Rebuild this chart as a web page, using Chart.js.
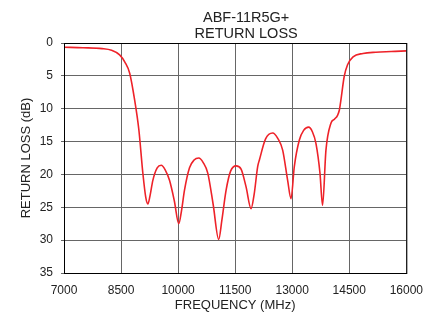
<!DOCTYPE html>
<html>
<head>
<meta charset="utf-8">
<script src="https://cdn.jsdelivr.net/npm/chart.js@4"></script>
<style>
  html, body { margin: 0; padding: 0; background: #fff; }
  #wrap { width: 433px; height: 313px; }
</style>
</head>
<body>
<div id="wrap"><canvas id="rlChart" width="433" height="313"></canvas></div>
<script>
// frequency in MHz, return loss in dB
const freqMHz = [
  7000, 7500, 8000, 8250, 8462, 8600, 8727, 8858, 8968, 9073, 9150, 9205, 9260, 9336,
  9450, 9556, 9660, 9774, 9900, 10018, 10090, 10168, 10300, 10420, 10543, 10660, 10780,
  10920, 11068, 11150, 11262, 11380, 11525, 11656, 11787, 11918, 12000, 12092, 12137,
  12300, 12486, 12620, 12749, 12880, 12969, 13055, 13186, 13300, 13431, 13530, 13625,
  13730, 13798, 13887, 14018, 14110, 14192, 14240, 14280, 14367, 14455, 14600, 14860,
  15199, 15600, 16000
];
const returnLossDb = [
  0.65, 0.72, 0.85, 1.1, 1.8, 2.9, 4.6, 8.7, 13.2, 19.8, 23.5, 24.5, 23.3, 20.9,
  19.0, 18.6, 19.3, 20.9, 24.0, 27.5, 25.5, 22.4, 19.0, 17.8, 17.5, 18.2, 19.8,
  24.5, 29.9, 27.0, 22.4, 19.5, 18.7, 19.2, 21.9, 25.2, 23.0, 18.8, 17.8,
  14.6, 13.7, 14.5, 16.3, 20.9, 23.7, 18.8, 14.8, 13.3, 12.8, 13.5, 15.3,
  19.8, 24.7, 16.3, 12.2, 11.6, 11.0, 10.2, 8.7, 5.1, 3.3, 2.1, 1.6,
  1.4, 1.3, 1.2
];
const titleLines = ["ABF-11R5G+", "RETURN LOSS"];
const xTicks = [7000, 8500, 10000, 11500, 13000, 14500, 16000];

const font = "'Liberation Sans', Arial, Helvetica, sans-serif";
const textColor = "#222";

// title above the plot and a black frame round it
const frame = {
  id: "frame",
  afterDraw(chart) {
    const { ctx, chartArea: a } = chart;
    ctx.save();
    ctx.strokeStyle = "#000";
    ctx.lineWidth = 1;
    ctx.strokeRect(a.left + 0.5, a.top + 0.5, a.right - a.left, a.bottom - a.top);
    ctx.fillStyle = textColor;
    ctx.font = "14.5px " + font;
    ctx.textAlign = "center";
    ctx.textBaseline = "alphabetic";
    const cx = (a.left + a.right) / 2 + 11;
    ctx.fillText(titleLines[0], cx, 21.5);
    ctx.fillText(titleLines[1], cx, 37.5);
    ctx.restore();
  }
};

new Chart(document.getElementById("rlChart").getContext("2d"), {
  type: "line",
  data: {
    datasets: [{
      data: freqMHz.map((f, i) => ({ x: f, y: returnLossDb[i] })),
      borderColor: "#ee2229",
      borderWidth: 1.6,
      pointRadius: 0,
      cubicInterpolationMode: "monotone",
      fill: false
    }]
  },
  options: {
    responsive: false,
    animation: false,
    layout: { padding: { top: 43, right: 26, left: 0, bottom: 0 } },
    plugins: { legend: { display: false }, tooltip: { enabled: false } },
    scales: {
      x: {
        type: "linear",
        min: 7000,
        max: 16000,
        afterBuildTicks: s => { s.ticks = xTicks.map(v => ({ value: v })); },
        afterFit: s => { s.height = 40; },
        ticks: { color: textColor, font: { family: font, size: 12 }, padding: 10, callback: v => String(v), maxRotation: 0 },
        grid: { color: "#666", lineWidth: 1, drawTicks: false },
        border: { color: "#000" },
        title: { display: true, text: "FREQUENCY (MHz)", color: textColor, font: { family: font, size: 13 }, padding: { top: 0, bottom: 0 } }
      },
      y: {
        min: 0,
        max: 35,
        reverse: true,
        afterFit: s => { s.width = 64; },
        ticks: { stepSize: 5, color: textColor, font: { family: font, size: 12 }, padding: 8 },
        grid: { color: "#666", lineWidth: 1, tickLength: 3 },
        border: { color: "#000" },
        title: { display: true, text: "RETURN LOSS (dB)", color: textColor, font: { family: font, size: 13 }, padding: { top: 19, bottom: 0 } }
      }
    }
  },
  plugins: [frame]
});
</script>
</body>
</html>
